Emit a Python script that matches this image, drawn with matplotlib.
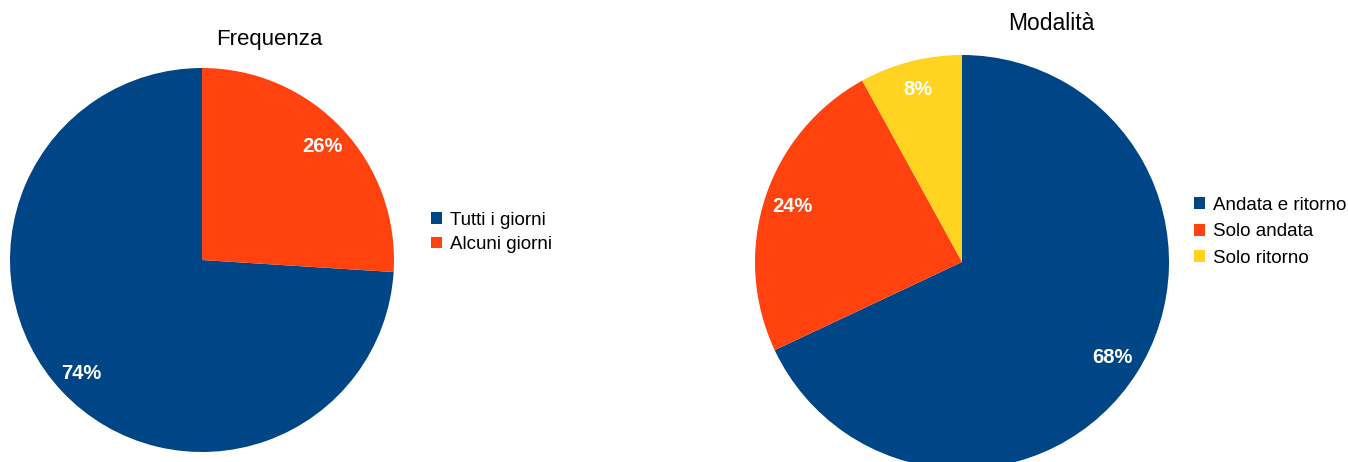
import matplotlib
matplotlib.use('Agg')
import matplotlib.pyplot as plt
from matplotlib.patches import Patch

plt.rcParams['font.family'] = ['Liberation Sans', 'DejaVu Sans']

W, H = 1348, 462

freq_labels = ['Tutti i giorni', 'Alcuni giorni']
freq_values = [74, 26]
freq_colors = ['#004586', '#ff420e']

mod_labels = ['Andata e ritorno', 'Solo andata', 'Solo ritorno']
mod_values = [68, 24, 8]
mod_colors = ['#004586', '#ff420e', '#ffd320']

fig = plt.figure(figsize=(W / 100, H / 100), dpi=100)


def pie_axes(cx, cy, r):
  # pixel centre/radius -> figure fraction axes
  return fig.add_axes([(cx - r) / W, (H - cy - r) / H, 2 * r / W, 2 * r / H])


def draw(ax, values, colors, counterclock):
  ax.pie(values, colors=colors, startangle=90, counterclock=counterclock,
         autopct='%d%%', pctdistance=0.86, radius=1,
         wedgeprops={'linewidth': 0},
         textprops={'color': 'white', 'fontweight': 'bold', 'fontsize': 14.5})
  ax.set_xlim(-1, 1)
  ax.set_ylim(-1, 1)
  ax.set_aspect('equal')
  ax.axis('off')
  for p in ax.patches:
    p.set_clip_on(False)


ax1 = pie_axes(202, 260, 192)
draw(ax1, freq_values, freq_colors, True)

ax2 = pie_axes(962, 262, 207)
draw(ax2, mod_values, mod_colors, False)

fig.text(269 / W, 1 - 40 / H, 'Frequenza', ha='center', va='center', fontsize=16)
fig.text(1051 / W, 1 - 23 / H, 'Modalità', ha='center', va='center', fontsize=16.5)

def legend(labels, colors, x, y, spacing):
  handles = [Patch(facecolor=c, edgecolor='none') for c in colors]
  fig.legend(handles, labels, loc='upper left', bbox_to_anchor=(x / W, 1 - y / H),
             frameon=False, fontsize=13.5, handlelength=0.6, handleheight=0.6,
             handletextpad=0.4, labelspacing=spacing, borderpad=0, borderaxespad=0)

legend(freq_labels, freq_colors, 431, 212, 0.38)
legend(mod_labels, mod_colors, 1194, 197, 0.5)

fig.savefig('out.png', dpi=100)
